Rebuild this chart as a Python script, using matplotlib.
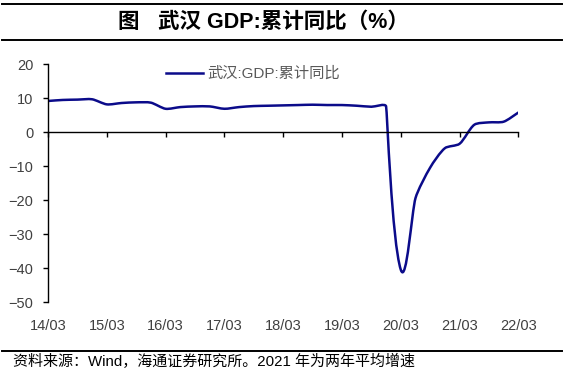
import numpy as np
import matplotlib
matplotlib.use("Agg")
import matplotlib.pyplot as plt
from matplotlib.path import Path
from matplotlib.patches import PathPatch
from matplotlib.lines import Line2D

# ---------------- data ----------------
tick_labels = ["14/03", "15/03", "16/03", "17/03", "18/03",
               "19/03", "20/03", "21/03", "22/03"]
quarters = list(range(33))  # 2014Q1 ... 2022Q1
gdp_yoy = [9.2, 9.5, 9.6, 9.7,
           8.2, 8.6, 8.8, 8.7,
           6.9, 7.4, 7.6, 7.6,
           6.9, 7.4, 7.7, 7.8,
           7.9, 8.0, 8.1, 8.0,
           8.0, 7.8, 7.5, 7.6,
           -40.5, -19.4, -10.4, -4.7,
           -3.4, 2.2, 2.9, 3.1,
           5.8]
series_name = "武汉:GDP:累计同比"
title_prefix = "图"
title_main = "武汉 GDP:累计同比（%）"
source_note = "资料来源：Wind，海通证券研究所。2021 年为两年平均增速"

# ---------------- style ----------------
FONTS = ["Liberation Sans", "Noto Sans CJK SC", "DejaVu Sans"]
plt.rcParams["font.family"] = FONTS
LINE_COLOR = "#0B0B8A"
TXT = "#404040"

W, H, DPI = 5.67, 3.75, 100
fig = plt.figure(figsize=(W, H), dpi=DPI)
L, R, T, B = 48 / 567, 518.4 / 567, 1 - 64.3 / 375, 1 - 302 / 375
ax = fig.add_axes([L, B, R - L, T - B])

ax.set_xlim(0, 32)
ax.set_ylim(-50, 20)
ax.set_yticks(np.arange(-50, 21, 10))
ax.set_xticks(range(0, 33, 4))
ax.set_xticklabels([])

for s in ["top", "right"]:
    ax.spines[s].set_visible(False)
ax.spines["bottom"].set_position(("data", 0))
ax.spines["bottom"].set_linewidth(1.0)
ax.spines["left"].set_linewidth(1.0)
ax.tick_params(axis="x", direction="out", length=3.5, width=1.0, colors="black")
ax.tick_params(axis="y", direction="out", length=3.5, width=1.0, colors="black",
               labelcolor=TXT, labelsize=10.5, pad=7)

sec = ax.secondary_xaxis("bottom")
sec.set_xticks(range(0, 33, 4))
sec.set_xticklabels(tick_labels)
sec.tick_params(length=0, pad=12, labelsize=10.5, labelcolor=TXT)
sec.spines["bottom"].set_visible(False)

# ---- smoothed line (Excel-like smoothing) ----
pts = ax.transData.transform(np.column_stack([quarters, gdp_yoy]))
n = len(pts)
k, cap = 0.25, 1.6
seglen = [np.linalg.norm(pts[i + 1] - pts[i]) for i in range(n - 1)]
tang, h_in, h_out = [], [], []
for i in range(n):
    a = pts[max(i - 1, 0)]
    b = pts[min(i + 1, n - 1)]
    d = b - a
    tang.append(d / np.linalg.norm(d))
    left = seglen[i - 1] if i > 0 else None
    right = seglen[i] if i < n - 1 else None
    if left is None:
        left = right
    if right is None:
        right = left
    h_in.append(k * min(left, cap * right))
    h_out.append(k * min(right, cap * left))
verts = [pts[0]]
codes = [Path.MOVETO]
for i in range(n - 1):
    c1 = pts[i] + tang[i] * h_out[i]
    c2 = pts[i + 1] - tang[i + 1] * h_in[i + 1]
    verts += [c1, c2, pts[i + 1]]
    codes += [Path.CURVE4] * 3
verts_data = ax.transData.inverted().transform(np.array(verts))
patch = PathPatch(Path(verts_data, codes), fill=False, edgecolor=LINE_COLOR,
                  lw=1.8, capstyle="round", joinstyle="round")
ax.add_patch(patch)

handle = Line2D([], [], color=LINE_COLOR, lw=1.8)
leg = ax.legend([handle], [series_name], loc="center left",
                bbox_to_anchor=(0.238, 0.959),
                frameon=False, fontsize=11, handlelength=2.4,
                handletextpad=0.3, borderaxespad=0)
for t in leg.get_texts():
    t.set_color("#595959")

# ---------------- title, rules, note ----------------
fig.text(117 / 567, 1 - 22 / 375, title_prefix, fontsize=15.5, fontweight="bold",
         ha="left", va="center", family=FONTS)
fig.text(158 / 567, 1 - 22 / 375, title_main, fontsize=15.5, fontweight="bold",
         ha="left", va="center", family=FONTS)
for yy in [1 - 3.5 / 375, 1 - 40 / 375, 1 - 350.7 / 375]:
    fig.add_artist(Line2D([2 / 567, 562 / 567], [yy, yy], transform=fig.transFigure,
                          color="black", lw=1.4))
fig.text(13 / 567, 1 - 361 / 375, source_note, fontsize=10.8, ha="left",
         va="center", family=FONTS, color="black")

fig.savefig("out.png", dpi=DPI)
